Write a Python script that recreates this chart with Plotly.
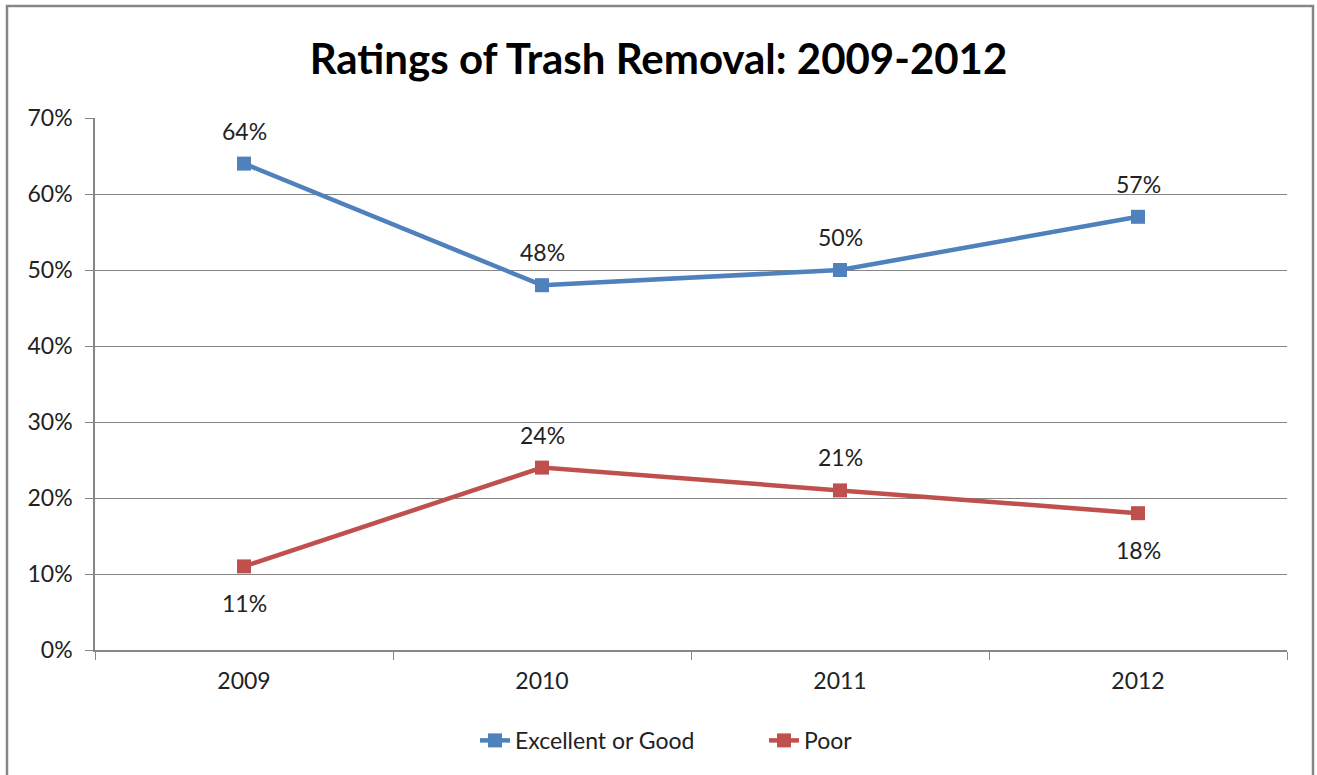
import plotly.graph_objects as go

years = ["2009", "2010", "2011", "2012"]
excellent_good = [0.64, 0.48, 0.50, 0.57]
poor = [0.11, 0.24, 0.21, 0.18]
poor_label_side = [-1, 1, 1, -1]
y_ticks = [0, 0.1, 0.2, 0.3, 0.4, 0.5, 0.6, 0.7]

BLUE = "#4F81BD"
RED = "#C0504D"
GRID = "#868686"
FONT = "Lato, Carlito, Calibri, sans-serif"

fig = go.Figure()
fig.add_trace(go.Scatter(x=years, y=excellent_good, mode="lines+markers", name="Excellent or Good",
                         line=dict(color=BLUE, width=4.5),
                         marker=dict(symbol="square", size=14, color=BLUE)))
fig.add_trace(go.Scatter(x=years, y=poor, mode="lines+markers", name="Poor",
                         line=dict(color=RED, width=4.5),
                         marker=dict(symbol="square", size=14, color=RED)))

annotations = []
for i, v in enumerate(excellent_good):
    annotations.append(dict(xref="x", yref="y", x=i, y=v, text=f"{round(v * 100)}%",
                            showarrow=False, yshift=33,
                            font=dict(size=23, color="#222222", family=FONT)))
for i, (v, s) in enumerate(zip(poor, poor_label_side)):
    annotations.append(dict(xref="x", yref="y", x=i, y=v, text=f"{round(v * 100)}%",
                            showarrow=False, yshift=(33 if s > 0 else -37),
                            font=dict(size=23, color="#222222", family=FONT)))

fig.update_layout(
    width=1317, height=775,
    margin=dict(l=95, r=30, t=118, b=125),
    paper_bgcolor="white", plot_bgcolor="white",
    font=dict(family=FONT, size=23, color="#222222"),
    title=dict(text="<b>Ratings of Trash Removal: 2009-2012</b>", x=0.5, xanchor="center",
               y=0.923, yanchor="middle", font=dict(size=42, color="black", family=FONT)),
    showlegend=True,
    legend=dict(orientation="h", x=(475 - 95) / 1192, xanchor="left", y=-0.17, yanchor="middle",
                font=dict(size=23, family=FONT), entrywidth=244, entrywidthmode="pixels"),
    xaxis=dict(type="category", tickson="boundaries", ticks="outside", ticklen=8,
               tickcolor=GRID, showline=True, linecolor=GRID, linewidth=1.5,
               showgrid=False, tickfont=dict(size=23), range=[-0.5, 3.5],
               ticklabelstandoff=10),
    yaxis=dict(range=[0, 0.7], tickvals=y_ticks, tickformat=".0%", ticks="outside", ticklen=8,
               tickcolor=GRID, showline=True, linecolor=GRID, linewidth=1.5,
               showgrid=True, gridcolor=GRID, gridwidth=1, zeroline=False,
               tickfont=dict(size=23), ticklabelstandoff=8),
    shapes=[dict(type="rect", xref="paper", yref="paper",
                 x0=(7 - 95) / 1192, x1=(1313 - 95) / 1192,
                 y0=(650 - 800) / 532, y1=(650 - 6) / 532,
                 line=dict(color=GRID, width=2.5), fillcolor="rgba(0,0,0,0)", layer="below")],
)
for a in annotations:
    fig.add_annotation(**a)

fig.write_html("out.html", config={"displayModeBar": False},
               post_script="document.body.style.margin='0';document.body.style.overflow='hidden';")
